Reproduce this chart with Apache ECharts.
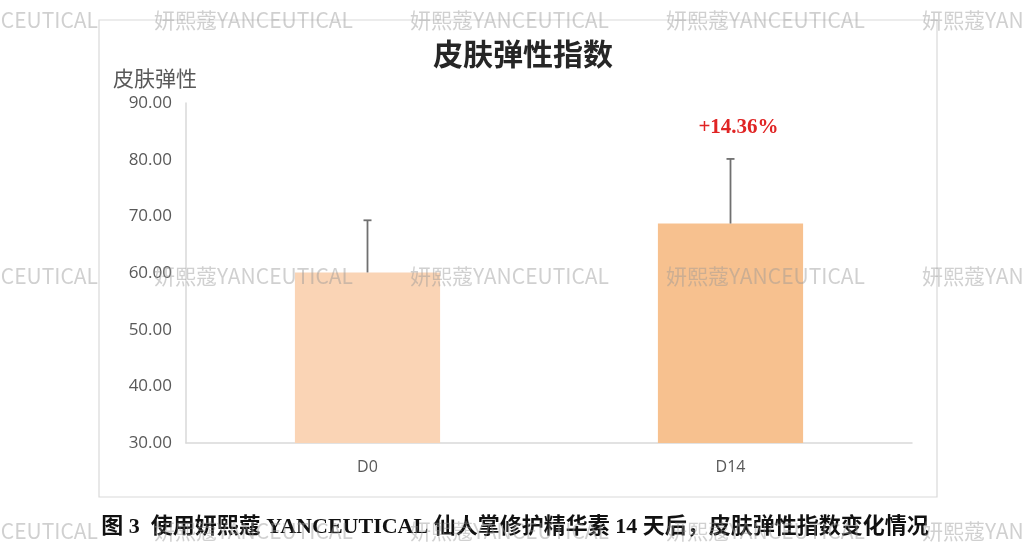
<!DOCTYPE html>
<html>
<head>
<meta charset="utf-8">
<script src="https://cdn.jsdelivr.net/npm/echarts@6/dist/echarts.min.js"></script>
<style>
html,body{margin:0;padding:0;background:#fff;}
#c{width:1024px;height:556px;}
</style>
</head>
<body>
<div id="c"></div>
<script>
const categories = ['D0', 'D14'];
const meanValues = [60.10, 68.73];
const sdValues = [9.2, 11.4];
const changeLabels = ['', '+14.36%'];
const barColors = ['#FAD4B5', '#F7C18F'];
const yTicks = { min: 30, max: 90, interval: 10 };
const chartTitle = '皮肤弹性指数';
const yName = '皮肤弹性';
const caption = '图 3  使用妍熙蔻 YANCEUTICAL 仙人掌修护精华素 14 天后，皮肤弹性指数变化情况';
const watermarkText = '妍熙蔻YANCEUTICAL';

const chart = echarts.init(document.getElementById('c'));

const wm = [];
const wmCols = [-101, 154, 410, 666, 922];
const wmRows = [20, 276, 531];
wmRows.forEach(y => wmCols.forEach(x => {
  wm.push({
    type: 'text', x: x, y: y, z: 100, silent: true,
    style: { text: watermarkText, font: '21px "Noto Sans CJK SC", "Liberation Sans", sans-serif',
      fill: 'rgba(150,150,150,0.45)', textAlign: 'left', textVerticalAlign: 'middle' }
  });
}));

const option = {
  backgroundColor: '#ffffff',
  animation: false,
  title: {
    text: chartTitle, left: 518, top: 34, textAlign: 'center',
    textStyle: { fontFamily: '"Noto Sans CJK SC", serif', fontWeight: 'bold', fontSize: 30, color: '#262626' }
  },
  grid: { left: 186, right: 112, top: 103, bottom: 113 },
  xAxis: {
    type: 'category', data: categories,
    axisLine: { lineStyle: { color: '#d9d9d9', width: 1.5 } },
    axisTick: { show: false },
    axisLabel: { color: '#595959', fontSize: 16, margin: 16, fontFamily: '"Open Sans", sans-serif' }
  },
  yAxis: {
    type: 'value', min: yTicks.min, max: yTicks.max, interval: yTicks.interval,
    name: yName, nameLocation: 'end', nameGap: 14,
    nameTextStyle: { color: '#595959', fontSize: 21, fontFamily: '"Noto Sans CJK SC", sans-serif', align: 'center', padding: [0, 62, 0, 0] },
    axisLine: { show: true, lineStyle: { color: '#d9d9d9', width: 1.5 } },
    axisTick: { show: false },
    splitLine: { show: false },
    axisLabel: { color: '#595959', fontSize: 17, margin: 14, fontFamily: '"Open Sans", sans-serif',
      formatter: v => v.toFixed(2) }
  },
  series: [
    {
      type: 'bar', barWidth: '40%',
      data: meanValues.map((v, i) => ({ value: v, itemStyle: { color: barColors[i] } }))
    },
    {
      type: 'custom', z: 5,
      data: meanValues.map((v, i) => [i, v, sdValues[i]]),
      renderItem: function (params, api) {
        const i = api.value(0);
        const base = api.coord([i, api.value(1)]);
        const top = api.coord([i, api.value(1) + api.value(2)]);
        const children = [
          { type: 'line', shape: { x1: base[0], y1: base[1], x2: top[0], y2: top[1] },
            style: { stroke: '#707070', lineWidth: 1.8 } },
          { type: 'line', shape: { x1: top[0] - 4, y1: top[1], x2: top[0] + 4, y2: top[1] },
            style: { stroke: '#707070', lineWidth: 1.8 } }
        ];
        const lab = changeLabels[params.dataIndex];
        if (lab) {
          children.push({ type: 'text', x: top[0] + 8, y: top[1] - 31,
            style: { text: lab, fill: '#E02424', font: 'bold 21px "Liberation Serif", "Noto Sans CJK SC", serif',
              textAlign: 'center', textVerticalAlign: 'middle' } });
        }
        return { type: 'group', children: children };
      }
    }
  ],
  graphic: [
    { type: 'rect', shape: { x: 99, y: 20, width: 838, height: 477 }, silent: true, z: -1,
      style: { fill: 'none', stroke: '#d9d9d9', lineWidth: 1.2 } },
    { type: 'text', x: 515, y: 527, silent: true,
      style: { text: caption, font: 'bold 22px "Liberation Serif", "Noto Sans CJK SC", serif', fill: '#111',
        textAlign: 'center', textVerticalAlign: 'middle' } }
  ].concat(wm)
};
chart.setOption(option);
</script>
</body>
</html>
